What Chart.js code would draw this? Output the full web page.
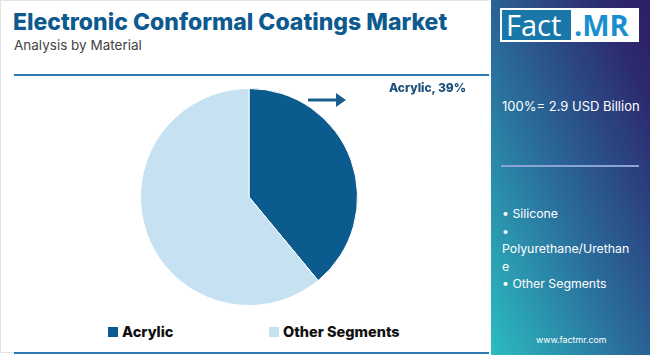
<!DOCTYPE html>
<html><head><meta charset="utf-8">
<script src="https://cdn.jsdelivr.net/npm/chart.js@4"></script>
<style>
html,body{margin:0;padding:0;width:650px;height:355px;overflow:hidden;background:#fff;font-family:Inter,"Open Sans",sans-serif;}
#left{position:absolute;left:0;top:0;width:489px;height:353px;border:1px solid #e2e2e2;border-right:none;box-sizing:border-box;}
#title{position:absolute;left:12px;top:7px;font-size:23px;font-weight:800;color:#0d5a8e;letter-spacing:0px;white-space:nowrap;}
#sub{position:absolute;left:13px;top:36px;font-size:13.5px;color:#444;}
#topline{position:absolute;left:13px;top:73px;width:475px;height:2px;background:#2a78ad;}
#botline{position:absolute;left:13px;top:351px;width:475px;height:2px;background:#2a78ad;}
#cwrap{position:absolute;left:0;top:76px;width:490px;height:240px;}
#ann{position:absolute;left:388px;top:79px;font-size:12px;font-weight:800;color:#1b4f7a;white-space:nowrap;}
#legend{position:absolute;left:0;top:322px;width:490px;height:20px;font-size:14.5px;font-weight:800;color:#111;}
.li{position:absolute;top:0;display:flex;align-items:center;white-space:nowrap;}
.sw{width:10px;height:10px;margin-right:4px;}
#right{position:absolute;left:491px;top:0;width:159px;height:355px;background:linear-gradient(to top right,#2bbcc0 0%,#2a6a9a 45%,#2c2a70 85%,#2e1d68 100%);}
#logo{position:absolute;left:9px;top:8px;width:139px;height:34px;background:#fff;}
#logo .f{position:absolute;left:2px;top:2px;width:69px;height:30px;background:#1a77aa;color:#fff;font-size:29px;line-height:30px;text-align:left;padding-left:4px;box-sizing:border-box;font-family:"Open Sans",sans-serif;}
#logo .m{position:absolute;left:74px;top:2px;height:30px;color:#1a8fcf;font-size:29px;font-weight:700;line-height:30px;font-family:"Open Sans",sans-serif;}
#total{position:absolute;left:11px;top:98px;font-size:13px;color:#fff;white-space:nowrap;}
#rline{position:absolute;left:10px;top:165px;width:138px;height:2px;background:#8aa4d6;}
#segs{position:absolute;left:11px;top:205px;font-size:12.3px;line-height:17.6px;color:#fff;white-space:nowrap;}
#web{position:absolute;left:45px;top:334px;font-size:8.8px;color:#fff;}
</style></head>
<body>
<div id="left">
  <div id="title"></div>
  <div id="sub"></div>
  <div id="topline"></div>
  <div id="cwrap"><canvas id="c" width="490" height="240"></canvas></div>
  <div id="ann"></div>
  <div id="legend"></div>
  <div id="botline"></div>
</div>
<div id="right">
  <div id="logo"><div class="f">Fact</div><div class="m">.MR</div></div>
  <div id="total"></div>
  <div id="rline"></div>
  <div id="segs"></div>
  <div id="web">www.factmr.com</div>
</div>
<script>
const titleText = "Electronic Conformal Coatings Market";
const subtitleText = "Analysis by Material";
const categories = ["Acrylic", "Other Segments"];
const shares = [39, 61];
const colors = ["#0b5b8f", "#c6e2f2"];
const totalLabel = "100%= 2.9 USD Billion";
const otherSegments = ["• Silicone", "•", "Polyurethane/Urethan", "e", "• Other Segments"];

document.getElementById('title').textContent = titleText;
document.getElementById('sub').textContent = subtitleText;
document.getElementById('ann').textContent = categories[0] + ", " + shares[0] + "%";
document.getElementById('total').textContent = totalLabel;
document.getElementById('segs').innerHTML = otherSegments.map(s => s.replace(/&/g,'&amp;')).join('<br>');

const legendPos = [107, 268];
const lg = document.getElementById('legend');
categories.forEach((c, i) => {
  const d = document.createElement('div');
  d.className = 'li';
  d.style.left = legendPos[i] + 'px';
  d.innerHTML = '<span class="sw" style="background:' + colors[i] + '"></span><span>' + c + '</span>';
  lg.appendChild(d);
});

const arrowPlugin = {
  id: 'arrow',
  afterDraw(chart) {
    const ctx = chart.ctx;
    ctx.save();
    ctx.strokeStyle = '#1a5e8e';
    ctx.fillStyle = '#1a5e8e';
    ctx.lineWidth = 3;
    const y = 23;
    ctx.beginPath(); ctx.moveTo(307, y); ctx.lineTo(336, y); ctx.stroke();
    ctx.beginPath(); ctx.moveTo(345, y); ctx.lineTo(335, y - 7); ctx.lineTo(335, y + 7); ctx.closePath(); ctx.fill();
    ctx.restore();
  }
};

new Chart(document.getElementById('c'), {
  type: 'pie',
  data: { labels: categories, datasets: [{ data: shares, backgroundColor: colors, borderColor: '#ffffff', borderWidth: 1 }] },
  options: {
    responsive: false, animation: false,
    layout: { padding: { left: 6, right: 0, top: 11, bottom: 11 } },
    plugins: { legend: { display: false }, tooltip: { enabled: false } }
  },
  plugins: [arrowPlugin]
});
</script>
</body></html>
